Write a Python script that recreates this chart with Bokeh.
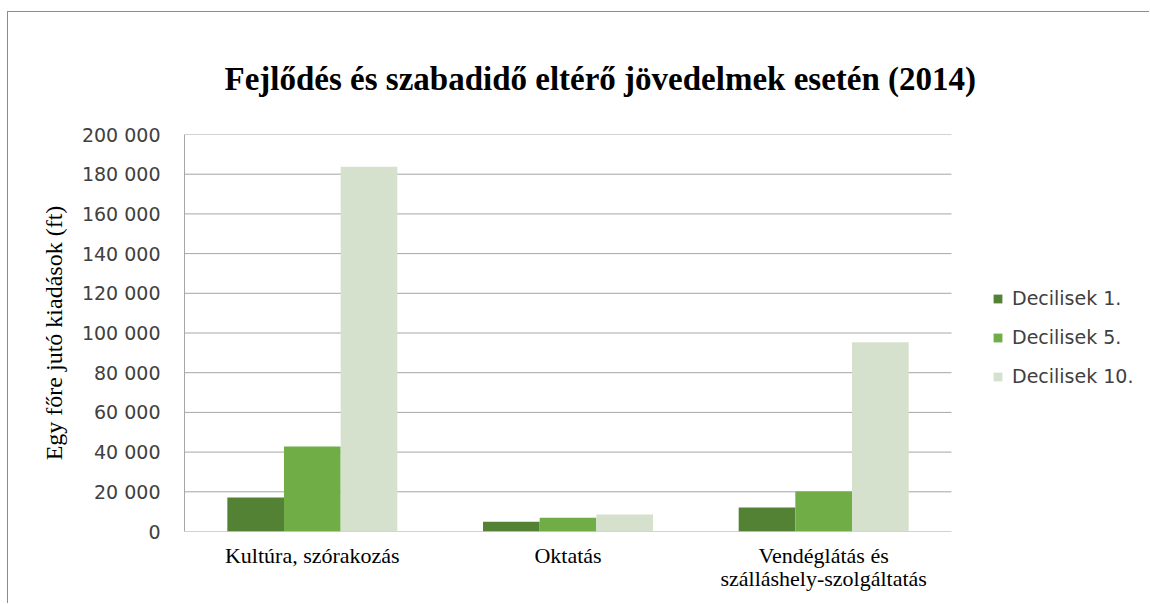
from bokeh.plotting import figure
from bokeh.models import (Range1d, FixedTicker, Legend, LegendItem, Title,
                          ColumnDataSource, LinearAxis)
from bokeh.transform import dodge
from bokeh.embed import file_html
from bokeh.resources import INLINE

# ---- data ----
categories = ["Kultúra, szórakozás", "Oktatás", "Vendéglátás és szálláshely-szolgáltatás"]
category_line1 = ["Kultúra, szórakozás", "Oktatás", "Vendéglátás és"]
category_line2 = ["", "", "szálláshely-szolgáltatás"]
series = ["Decilisek 1.", "Decilisek 5.", "Decilisek 10."]
decilis_1 = [17100, 4900, 12100]
decilis_5 = [42800, 6900, 20100]
decilis_10 = [183800, 8600, 95300]
y_ticks = [0, 20000, 40000, 60000, 80000, 100000, 120000, 140000, 160000, 180000, 200000]
y_tick_labels = [f"{v:,}".replace(",", " ") for v in y_ticks]

title_text = "Fejlődés és szabadidő eltérő jövedelmek esetén (2014)"
y_label = "Egy főre jutó kiadások (ft)"

colors = ["#548235", "#70AD47", "#D5E1CC"]

n = len(categories)
cat_pos = [i + 0.5 for i in range(n)]
source = ColumnDataSource(dict(x=cat_pos, d1=decilis_1, d5=decilis_5, d10=decilis_10))

# frame extends to the right to host the legend; the plot area proper spans x in [0, n]
x_end = n * (961 / 767)
p = figure(x_range=Range1d(0, x_end), y_range=Range1d(0, 200000),
           width=1142, height=592, output_backend="svg", toolbar_location=None,
           min_border_left=176, min_border_right=5, min_border_top=122,
           min_border_bottom=73, title=None)
p.styles = {"margin-left": "7px", "margin-top": "11px",
            "border-left": "1px solid #8c8c8c", "border-top": "1px solid #8c8c8c"}

grid_color = "#a6a6a6"
# horizontal gridlines (and the category axis line at 0) across the plot area
p.segment(x0=[0] * len(y_ticks), x1=[n] * len(y_ticks), y0=y_ticks, y1=y_ticks,
          line_color=grid_color, line_width=1)

bw = 0.2216
cols = ["d1", "d5", "d10"]
offsets = [-bw, 0, bw]
renderers = []
for col, off, c in zip(cols, offsets, colors):
    r = p.vbar(x=dodge("x", off), top=col, width=bw, source=source,
               fill_color=c, line_color=None)
    renderers.append(r)

# title
t = Title(text=title_text, align="left", text_font="Liberation Serif",
          text_font_size="33px", text_font_style="bold", text_color="#000000",
          offset=40, standoff=76)
p.add_layout(t, "above")

p.outline_line_color = None
p.background_fill_color = "white"
p.border_fill_color = "white"
p.xgrid.visible = False
p.ygrid.visible = False

p.yaxis.ticker = FixedTicker(ticks=y_ticks)
p.yaxis.major_label_overrides = {v: s for v, s in zip(y_ticks, y_tick_labels)}
p.yaxis.axis_line_color = grid_color
p.yaxis.major_tick_line_color = None
p.yaxis.minor_tick_line_color = None
p.yaxis.major_tick_out = 0
p.yaxis.major_tick_in = 0
p.yaxis.major_label_standoff = 24
p.yaxis.major_label_text_font = "DejaVu Sans"
p.yaxis.major_label_text_font_size = "19px"
p.yaxis.major_label_text_color = "#404040"
p.yaxis.axis_label = y_label
p.yaxis.axis_label_text_font = "Liberation Serif"
p.yaxis.axis_label_text_font_size = "24px"
p.yaxis.axis_label_text_font_style = "normal"
p.yaxis.axis_label_text_color = "#000000"
p.yaxis.axis_label_standoff = 12


def style_cat_axis(ax, labels, standoff):
    ticks = [pos for pos, l in zip(cat_pos, labels) if l]
    ax.ticker = FixedTicker(ticks=ticks)
    ax.major_label_overrides = {pos: l for pos, l in zip(cat_pos, labels) if l}
    ax.axis_line_color = None
    ax.major_tick_line_color = None
    ax.minor_tick_line_color = None
    ax.major_tick_out = 0
    ax.major_tick_in = 0
    ax.major_label_standoff = standoff
    ax.major_label_text_font = "Liberation Serif"
    ax.major_label_text_font_size = "22px"
    ax.major_label_text_color = "#000000"


style_cat_axis(p.xaxis[0], category_line1, 11)
ax2 = LinearAxis()
style_cat_axis(ax2, category_line2, -5)
p.add_layout(ax2, "below")

legend = Legend(items=[LegendItem(label=s, renderers=[r]) for s, r in zip(series, renderers)],
                location=(808, 144), orientation="vertical")
legend.border_line_color = None
legend.background_fill_alpha = 0
legend.glyph_width = 11
legend.glyph_height = 11
legend.label_standoff = 9
legend.spacing = 17
legend.label_height = 20
legend.padding = 0
legend.margin = 0
legend.label_text_font = "DejaVu Sans"
legend.label_text_font_size = "19px"
legend.label_text_color = "#404040"
p.add_layout(legend, "center")

open("out.html", "w").write(file_html(p, INLINE))
